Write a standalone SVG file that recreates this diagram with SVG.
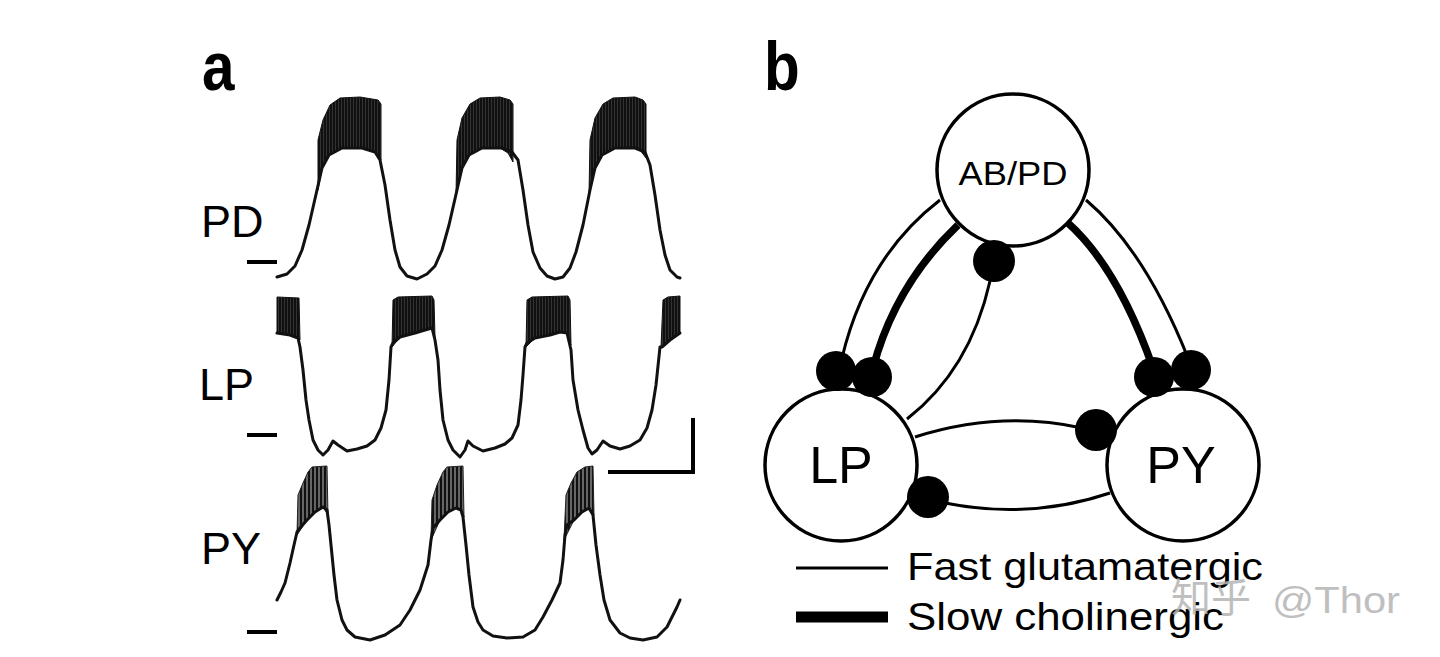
<svg xmlns="http://www.w3.org/2000/svg" width="1440" height="657" viewBox="0 0 1440 657">
<style>
  .lbl { font-family: "Liberation Sans", Arial, Helvetica, sans-serif; fill: #000; }
  .panel { font-family: "Liberation Sans", Arial, Helvetica, sans-serif; font-weight: bold; font-size: 68px; fill: #000; }
  .trace { fill: none; stroke: #111; stroke-width: 3; stroke-linejoin: round; stroke-linecap: round; }
  .burst { fill: url(#spk); stroke: #111; stroke-width: 1; }
  .burst2 { fill: url(#spk2); stroke: #222; stroke-width: 1; }
  .dash { stroke: #000; stroke-width: 4; }
  .cell { fill: #fff; stroke: #000; stroke-width: 3.5; }
  .fast { fill: none; stroke: #000; stroke-width: 3; }
  .slow { fill: none; stroke: #000; stroke-width: 7.5; }
  .syn { fill: #000; }
</style>
<defs>
  <pattern id="spk" width="3" height="4" patternUnits="userSpaceOnUse">
    <rect width="3" height="4" fill="#101010"/>
    <rect x="2" width="1" height="4" fill="#333"/>
  </pattern>
  <pattern id="spk2" width="4" height="4" patternUnits="userSpaceOnUse">
    <rect width="4" height="4" fill="#666"/>
    <rect width="2" height="4" fill="#111"/>
  </pattern>
</defs>
<rect width="1440" height="657" fill="#fff"/>

<!-- Panel a -->
<g id="panel-a">
  <g transform="translate(202,90) scale(0.86,1)"><text class="panel" x="0" y="0">a</text></g>

  <text class="lbl" x="201" y="237" font-size="45">PD</text>
  <text class="lbl" x="199" y="400" font-size="45">LP</text>
  <text class="lbl" x="201" y="564" font-size="45">PY</text>

  <line class="dash" x1="247" y1="262" x2="277" y2="262"/>
  <line class="dash" x1="247" y1="435" x2="277" y2="435"/>
  <line class="dash" x1="247" y1="632" x2="277" y2="632"/>

  <!-- PD trace -->
  <g id="trace-pd">
    <polygon class="burst" points="318,190 318,140 323,120 330,105 340,98 360,97 378,100 381,104 381,160 375,152 362,148 342,148 329,155 322,168"/>
    <polygon class="burst" points="456,195 457,140 462,118 470,104 480,98 500,97 510,100 513,104 513,162 508,153 500,148 482,148 469,155 462,168"/>
    <polygon class="burst" points="589,195 590,140 595,118 603,104 613,98 635,97 643,100 646,104 646,158 640,150 635,148 615,148 602,155 595,168"/>
    <polyline class="trace" points="277,277 287,274 295,266 302,250 309,225 317,190 322,168 329,155 342,148 362,148 375,152 380,160 385,185 390,220 395,250 400,267 407,276 417,279 427,274 435,266 442,250 449,225 457,190 462,168 469,155 482,148 502,148 512,152 518,160 523,190 528,225 533,252 540,268 547,276 555,279 563,277 570,268 576,252 583,225 590,190 595,168 602,155 615,148 635,148 645,152 650,165 655,195 660,230 665,255 670,270 677,277 680,278"/>
  </g>

  <!-- LP trace -->
  <g id="trace-lp">
    <polygon class="burst" points="277,297 299,298 300,340 290,335 277,333"/>
    <polygon class="burst" points="392,347 393,300 398,297 432,296 434,300 435,338 432,328 425,330 415,333 400,337"/>
    <polygon class="burst" points="526,347 527,300 532,297 568,296 570,300 571,345 567,333 560,332 550,335 535,338"/>
    <polygon class="burst" points="661,347 663,300 668,297 680,296 680,333 670,340"/>
    <polyline class="trace" points="277,333 290,335 298,338 300,347 303,370 306,400 309,420 313,440 318,450 323,455 328,450 333,441 338,445 347,451 357,449 367,446 375,440 381,428 386,410 389,380 391,347 393,343 400,337 415,333 425,330 432,328 435,340 438,360 440,390 443,420 448,440 453,450 460,457 465,450 468,441 473,446 483,451 495,448 505,444 512,438 518,425 521,400 523,375 525,347 527,343 535,338 550,335 560,332 567,333 571,350 573,380 578,410 583,430 588,448 592,454 597,450 603,441 610,446 620,449 630,446 640,440 647,428 652,410 656,385 660,347 662,347 670,340 680,333"/>
  </g>

  <!-- PY trace -->
  <g id="trace-py">
    <polygon class="burst2" points="297,535 298,495 303,483 308,472 312,467 327,466 328,515 323,507 315,512 307,520"/>
    <polygon class="burst2" points="431,540 432,500 437,485 443,472 447,467 463,466 464,517 461,510 456,508 448,512 440,520"/>
    <polygon class="burst2" points="564,540 566,495 571,483 577,472 585,467 593,466 594,515 589,508 582,512 574,520"/>
    <polyline class="trace" points="277,600 281,592 285,583 290,563 294,545 297,532 300,528 307,520 315,512 323,507 327,510 329,525 331,545 334,575 337,600 342,620 347,630 355,637 370,640 385,635 400,625 410,610 420,590 428,565 431,540 433,528 440,520 448,512 456,508 461,510 463,517 466,545 469,575 473,607 478,622 483,630 493,636 507,638 523,637 535,630 543,617 552,600 560,583 563,560 565,535 567,525 574,520 582,512 589,508 593,515 596,545 600,575 604,600 610,620 620,633 630,638 643,640 657,637 667,627 677,607 680,600"/>
  </g>

  <!-- scale bar -->
  <polyline points="693,418 693,472 608,472" fill="none" stroke="#000" stroke-width="4"/>
</g>

<!-- Panel b -->
<g transform="translate(764,90) scale(0.86,1)"><text class="panel" x="0" y="0">b</text></g>

<g id="connectors">
  <path class="fast" d="M 940 200 Q 866 257 842 358"/>
  <path class="slow" d="M 958 225 Q 895 285 873 368"/>
  <path class="fast" d="M 1086 200 Q 1145 250 1188 358"/>
  <path class="slow" d="M 1068 223 Q 1118 268 1153 368"/>
  <path class="fast" d="M 990 281 Q 970 370 907 419"/>
  <path class="fast" d="M 915 437 Q 1000 410 1082 428"/>
  <path class="fast" d="M 1110 493 Q 1030 520 945 503"/>
</g>

<g id="node-abpd">
  <circle class="cell" cx="1013" cy="170" r="76"/>
  <text class="lbl" x="1013" y="185" font-size="33" text-anchor="middle" textLength="109" lengthAdjust="spacingAndGlyphs">AB/PD</text>
</g>
<g id="node-lp">
  <circle class="cell" cx="841" cy="465" r="76"/>
  <text class="lbl" x="841" y="483" font-size="52" text-anchor="middle">LP</text>
</g>
<g id="node-py">
  <circle class="cell" cx="1183" cy="465" r="76"/>
  <text class="lbl" x="1181" y="483" font-size="52" text-anchor="middle">PY</text>
</g>

<g id="synapses">
  <circle class="syn" cx="836" cy="371" r="20"/>
  <circle class="syn" cx="872" cy="377" r="20"/>
  <circle class="syn" cx="1154" cy="377" r="20"/>
  <circle class="syn" cx="1191" cy="370" r="20"/>
  <circle class="syn" cx="994" cy="261" r="21"/>
  <circle class="syn" cx="1096" cy="430" r="21"/>
  <circle class="syn" cx="928" cy="497" r="21"/>
</g>

<g id="legend">
  <line x1="796" y1="568" x2="888" y2="568" stroke="#000" stroke-width="3"/>
  <line x1="796" y1="617" x2="888" y2="617" stroke="#000" stroke-width="11"/>
  <text class="lbl" x="907" y="580" font-size="39" textLength="356" lengthAdjust="spacingAndGlyphs">Fast glutamatergic</text>
  <text class="lbl" x="907" y="630" font-size="39" textLength="317" lengthAdjust="spacingAndGlyphs">Slow cholinergic</text>
</g>

<g id="watermark" fill="#b5b5b5" opacity="0.85">
  <text x="1171" y="612" font-size="40" font-family="'Noto Sans CJK SC', 'Liberation Sans', sans-serif">知乎</text>
  <text x="1272" y="613" font-size="37" font-family="'Liberation Sans', Arial, sans-serif" textLength="128" lengthAdjust="spacingAndGlyphs">@Thor</text>
</g>
</svg>
